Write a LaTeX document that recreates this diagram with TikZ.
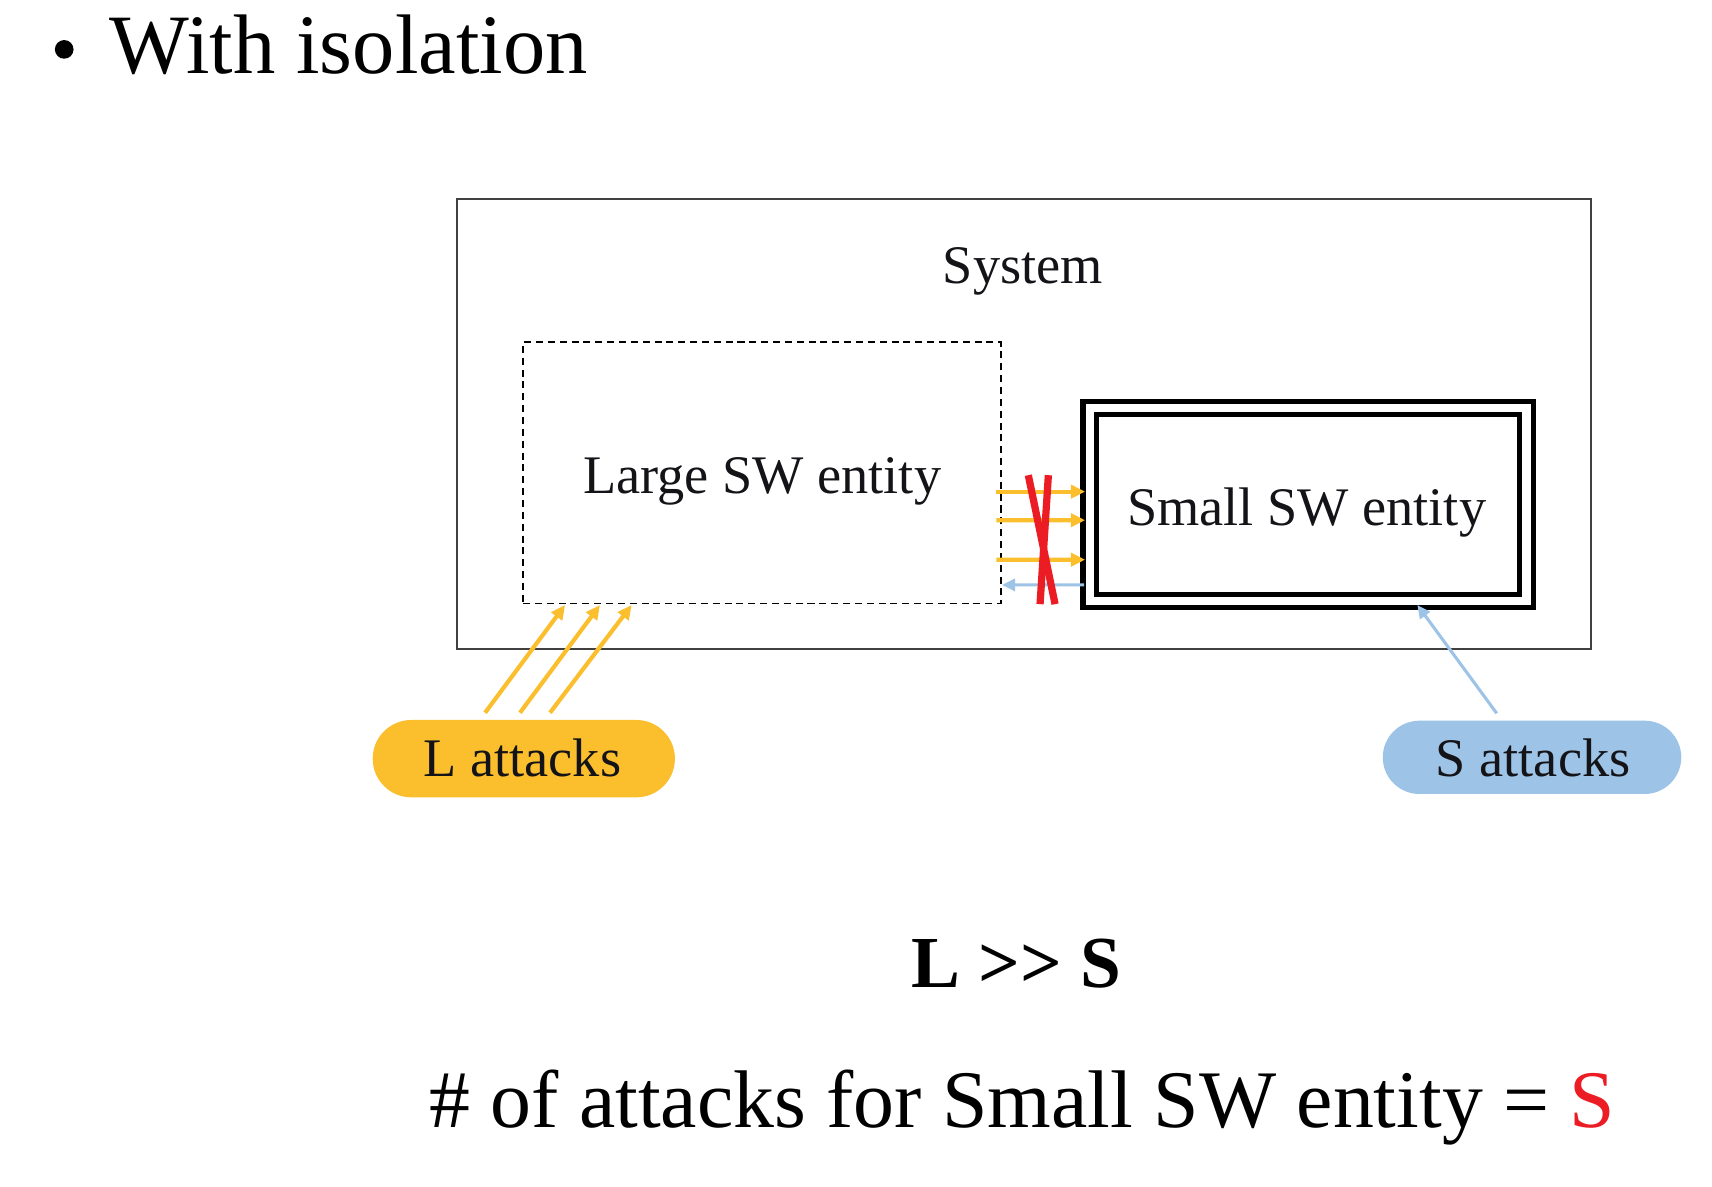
\documentclass[tikz,border=0pt]{standalone}
\usepackage{fontspec}
\setmainfont{Liberation Serif}
\usetikzlibrary{arrows.meta,calc}
\definecolor{lorange}{RGB}{251,190,45}
\definecolor{lblue}{RGB}{157,195,230}
\definecolor{xred}{RGB}{235,28,36}
\definecolor{sysgray}{RGB}{64,64,64}
\definecolor{txt}{RGB}{20,20,24}
\begin{document}
\begin{tikzpicture}[x=0.5pt,y=-0.5pt,
  box/.style={rectangle, inner sep=0pt, outer sep=0pt},
  lbl/.style={inner sep=0pt, outer sep=0pt, anchor=base, text=txt, font=\fontsize{24.75}{30}\selectfont},
  oarrow/.style={draw=lorange, line width=1.9pt, -{Triangle[length=6.5pt,width=6pt]}},
  barrow/.style={draw=lblue, line width=1.4pt, -{Triangle[length=6pt,width=5.5pt]}},
  pill/.style={rectangle, inner sep=0pt, outer sep=0pt},
  redx/.style={draw=xred, line width=3.3pt}
]
\useasboundingbox (0,0) rectangle (1560,1081);
% title
\fill[black] (58.5,45) circle[radius=8.5];
\node[anchor=base west, inner sep=0pt, outer sep=0pt, font=\fontsize{38.5}{46}\selectfont] (title) at (100,67) {With isolation};
% boxes
\node[box, draw=sysgray, line width=0.9pt, minimum width=516.75pt, minimum height=205.2pt] (sys) at (932.75,386.2) {};
\node[box, draw=black, line width=0.75pt, dash pattern=on 3.2pt off 2.2pt, minimum width=217.7pt, minimum height=119.1pt] (large) at (694.3,430.9) {};
\node[box, draw=black, line width=2.3pt, double=white, double distance=3.85pt, minimum width=199pt, minimum height=88pt] (small) at (1192,459.8) {};
% labels
\node[lbl] (systxt) at (932,258) {System};
\node[lbl] (largetxt) at (694.5,449.5) {Large SW entity};
\node[lbl] (smalltxt) at (1190.6,478.4) {Small SW entity};
% pills
\node[pill, fill=lorange, rounded corners=17.6pt, minimum width=137.7pt, minimum height=35.25pt] (lpill) at (477.3,691.3) {};
\node[pill, fill=lblue, rounded corners=16.7pt, minimum width=136pt, minimum height=33.4pt] (spill) at (1396,690.1) {};
\node[lbl] (ltxt) at (476,707.7) {L attacks};
\node[lbl] (stxt) at (1397,707.7) {S attacks};
% horizontal arrows between entities
\draw[oarrow] ($(large.east)+(-4,17.1)$) -- ($(small.west)+(-4.2,-11.8)$);
\draw[oarrow] ($(large.east)+(-4,43.1)$) -- ($(small.west)+(-4.2,14.2)$);
\draw[oarrow] ($(large.east)+(-4,79.1)$) -- ($(small.west)+(-4.2,50.2)$);
\draw[barrow] ($(small.west)+(-5.2,73.2)$) -- ($(large.east)+(1,102.1)$);
% red cross
\draw[redx] (937,433) -- (961.4,550.5);
\draw[redx] (955.3,433) -- (947.7,550.5);
% attack arrows
\draw[oarrow] ($(lpill.north)+(-35.3,-6.6)$) -- ($(large.south)+(-179.4,1.3)$);
\draw[oarrow] ($(lpill.north)+(-3.5,-6.6)$) -- ($(large.south)+(-147.6,1.3)$);
\draw[oarrow] ($(lpill.north)+(23.9,-6.6)$) -- ($(large.south)+(-118.7,1.3)$);
\draw[barrow] ($(spill.north)+(-32.2,-6.7)$) -- ($(small.south)+(99.5,3.5)$);
% bottom texts
\node[anchor=base, inner sep=0pt, outer sep=0pt, font=\bfseries\fontsize{33.4}{40}\selectfont] (ineq) at (926.4,899.7) {L >\kern0pt> S};
\node[anchor=base, inner sep=0pt, outer sep=0pt, font=\fontsize{37.25}{44}\selectfont] (count) at (931.5,1027) {\# of attacks for Small SW entity = \textcolor{xred}{S}};
\end{tikzpicture}
\end{document}
